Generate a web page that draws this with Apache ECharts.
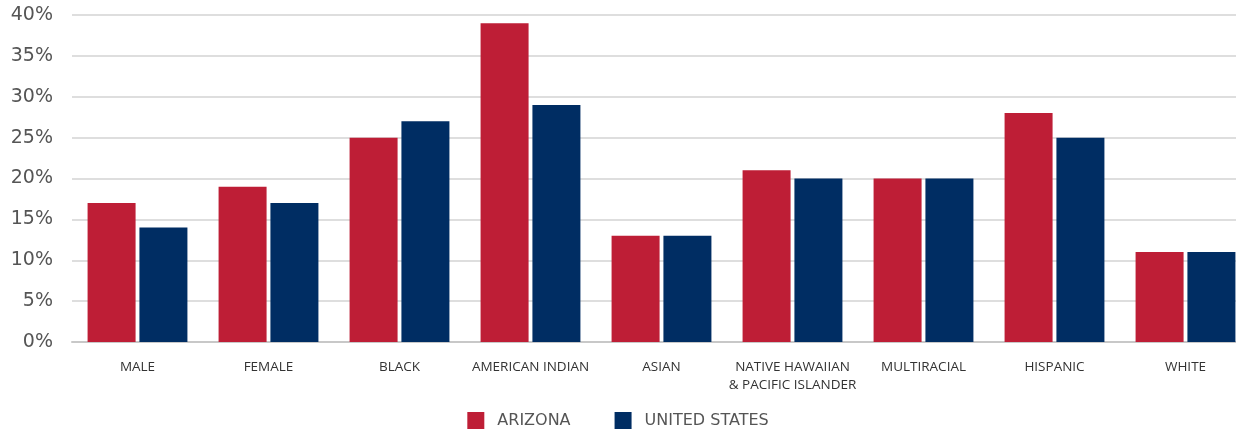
<!DOCTYPE html>
<html>
<head>
    <meta charset="utf-8" />
    <title>ECharts</title>
    <script src="https://cdn.jsdelivr.net/npm/echarts@6/dist/echarts.min.js"></script>
    <style>
        html, body { margin: 0; padding: 0; background: #fff; }
    </style>
</head>
<body>
<div id="main" style="width: 1236px;height:429px;"></div>
<script type="text/javascript">
    // 数据
    var categories = ['MALE', 'FEMALE', 'BLACK', 'AMERICAN INDIAN', 'ASIAN',
        'NATIVE HAWAIIAN\n& PACIFIC ISLANDER', 'MULTIRACIAL', 'HISPANIC', 'WHITE'];
    var arizona = [17, 19, 25, 39, 13, 21, 20, 28, 11];
    var unitedStates = [14, 17, 27, 29, 13, 20, 20, 25, 11];

    var fontName = '"DejaVu Sans", sans-serif';

    var option = {
        animation: false,
        grid: {
            left: 72,
            width: 1179,
            top: 15,
            bottom: 87,
            outerBoundsMode: 'none'
        },
        legend: {
            bottom: -5,
            left: 'center',
            itemWidth: 17,
            itemHeight: 17,
            itemGap: 44,
            icon: 'rect',
            textStyle: {
                fontFamily: fontName,
                fontSize: 16,
                color: '#555',
                padding: [0, 0, 0, 8]
            },
            data: ['ARIZONA', 'UNITED STATES']
        },
        xAxis: {
            type: 'category',
            data: categories,
            axisTick: { show: false },
            axisLine: { lineStyle: { color: '#c8c8c8', width: 2 } },
            axisLabel: {
                interval: 0,
                margin: 16,
                fontFamily: '"Open Sans", sans-serif',
                fontSize: 13.5,
                color: '#333',
                lineHeight: 18
            }
        },
        yAxis: {
            type: 'value',
            min: 0,
            max: 40,
            interval: 5,
            axisLine: { show: false },
            axisTick: { show: false },
            splitLine: { lineStyle: { color: '#dedede', width: 2 } },
            axisLabel: {
                margin: 19,
                formatter: '{value}%',
                fontFamily: fontName,
                fontSize: 19,
                color: '#555'
            }
        },
        series: [{
            name: 'ARIZONA',
            type: 'bar',
            data: arizona,
            barWidth: 48,
            barGap: '8%',
            itemStyle: { color: '#be1e36' }
        }, {
            name: 'UNITED STATES',
            type: 'bar',
            data: unitedStates,
            barWidth: 48,
            itemStyle: { color: '#002d63' }
        }]
    };

    var myChart = echarts.init(document.getElementById('main'));
    myChart.setOption(option);
</script>
</body>
</html>
